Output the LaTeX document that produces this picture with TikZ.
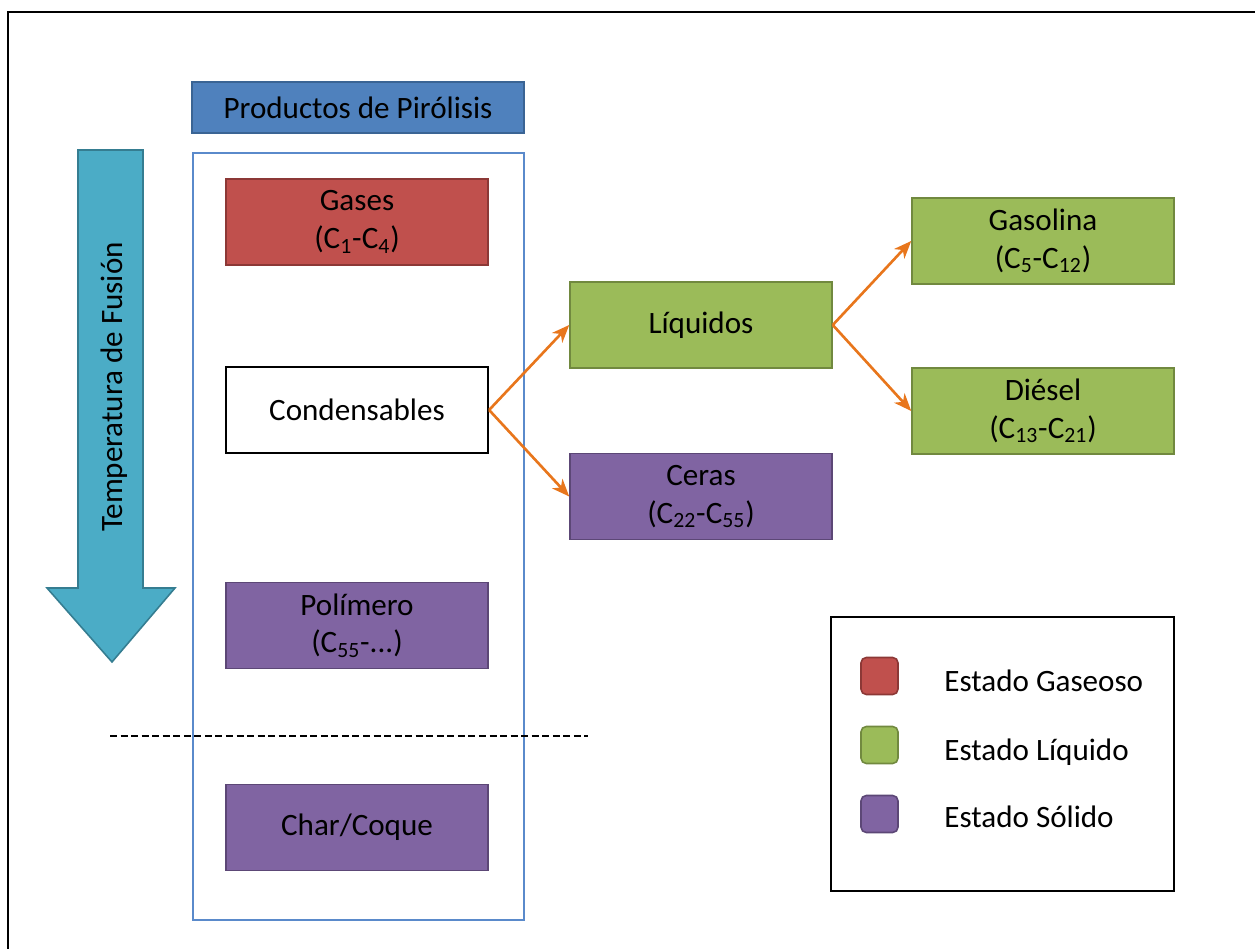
\documentclass[tikz,border=0pt]{standalone}
\usepackage{fontspec}
\setmainfont{Carlito}
\usetikzlibrary{arrows.meta}
\definecolor{hdrfill}{HTML}{4F81BD}
\definecolor{hdrdraw}{HTML}{3A6494}
\definecolor{contdraw}{HTML}{5A8ACB}
\definecolor{redfill}{HTML}{C0504D}
\definecolor{reddraw}{HTML}{8C3836}
\definecolor{grnfill}{HTML}{9BBB59}
\definecolor{grndraw}{HTML}{71893F}
\definecolor{purfill}{HTML}{8064A2}
\definecolor{purdraw}{HTML}{5C4776}
\definecolor{cyfill}{HTML}{4BACC6}
\definecolor{cydraw}{HTML}{357D91}
\definecolor{orarrow}{HTML}{E8761C}
\tikzset{
  txt/.style={font=\fontsize{17.7}{21.5}\selectfont, text=black},
  box/.style={txt, minimum width=5.24cm, minimum height=1.72cm, align=center, inner sep=0pt, line width=0.9pt},
  redbox/.style={box, fill=redfill, draw=reddraw},
  grnbox/.style={box, fill=grnfill, draw=grndraw},
  purbox/.style={box, fill=purfill, draw=purdraw},
  whtbox/.style={box, fill=white, draw=black, line width=1.3pt},
  flow/.style={draw=orarrow, line width=1.5pt, -{Stealth[length=10pt,width=8pt,inset=3pt]}},
  swatch/.style={minimum size=0.74cm, inner sep=0pt, rounded corners=3pt, line width=0.9pt},
  legtxt/.style={txt, anchor=west, inner sep=0pt}
}
\begin{document}
\begin{tikzpicture}[x=0.02cm, y=-0.02cm]
\useasboundingbox (0,0) rectangle (1255,949);
% outer frame (top and left edges)
\coordinate (fbl) at (8,949);
\coordinate (ftl) at (8,12);
\coordinate (ftr) at (1255,12);
\draw[line width=1.3pt] (fbl) -- (ftl) -- (ftr);

% temperature arrow
\draw[fill=cyfill, draw=cydraw, line width=0.9pt]
  (78,150) -- (143,150) -- (143,588) -- (175,588) -- (112,662) -- (47,588) -- (78,588) -- cycle;
\node[txt, rotate=90] (temp) at (114,387) {Temperatura de Fusión};

% header
\node[txt, fill=hdrfill, draw=hdrdraw, line width=0.9pt, minimum width=6.64cm, minimum height=1.02cm, inner sep=0pt] (hdr) at (358,107.5) {Productos de Pirólisis};
% container
\node[draw=contdraw, line width=1.2pt, minimum width=6.62cm, minimum height=15.34cm, inner sep=0pt] (cont) at (358.5,536.5) {};

% dashed separator
\coordinate (dl) at (110,736);
\coordinate (dr) at (588,736);
\draw[line width=0.9pt, dash pattern=on 4pt off 2pt] (dl) -- (dr);

% left column
\node[redbox] (gases) at (357,222) {Gases\\(C\textsubscript{1}-C\textsubscript{4})};
\node[whtbox] (cond) at (357,410) {Condensables};
\node[purbox] (poli) at (357,625.5) {Polímero\\(C\textsubscript{55}-...)};
\node[purbox] (char) at (357,827.5) {Char/Coque};

% middle
\node[grnbox] (liq) at (701,325) {Líquidos};
\node[purbox] (ceras) at (701,496.5) {Ceras\\(C\textsubscript{22}-C\textsubscript{55})};

% right
\node[grnbox] (gaso) at (1043,241) {Gasolina\\(C\textsubscript{5}-C\textsubscript{12})};
\node[grnbox] (dies) at (1043,411) {Diésel\\(C\textsubscript{13}-C\textsubscript{21})};

% connectors
\draw[flow] (cond.east) -- (liq.west);
\draw[flow] (cond.east) -- (ceras.west);
\draw[flow] (liq.east) -- (gaso.west);
\draw[flow] (liq.east) -- (dies.west);

% legend
\node[draw=black, line width=1.3pt, minimum width=6.86cm, minimum height=5.48cm, inner sep=0pt] (leg) at (1002.5,754) {};
\node[swatch, fill=redfill, draw=reddraw] (sw1) at (879.5,676) {};
\node[swatch, fill=grnfill, draw=grndraw] (sw2) at (879.5,745) {};
\node[swatch, fill=purfill, draw=purdraw] (sw3) at (879.5,814) {};
\node[legtxt] (lt1) at (944,681) {Estado Gaseoso};
\node[legtxt] (lt2) at (944,752) {Estado Líquido};
\node[legtxt] (lt3) at (944,817) {Estado Sólido};
\end{tikzpicture}
\end{document}
